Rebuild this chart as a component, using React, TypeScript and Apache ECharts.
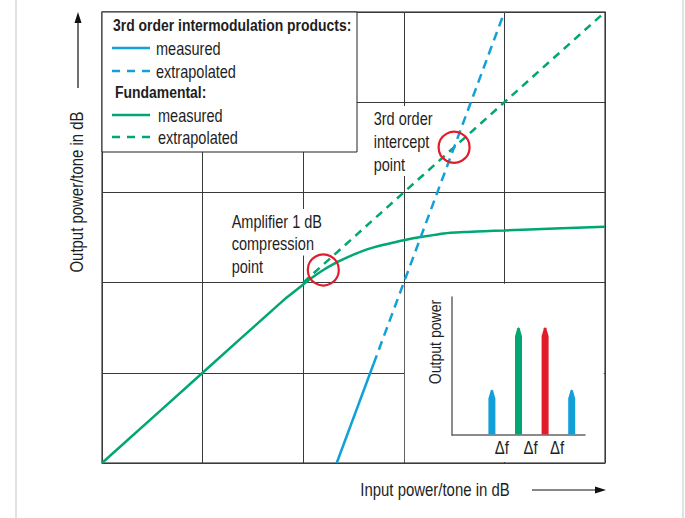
import React, { useEffect, useRef } from "react";
import * as echarts from "echarts";

const FONT = "'Liberation Sans', Arial, sans-serif";
const BLUE = "#12a0d9";
const GREEN = "#00a673";
const RED = "#e11d2b";
const GRID_LINE = "#3a3a3a";

// main chart data (dB, arbitrary units)
const fundMeasuredX = [0, 10, 18, 19, 20, 21, 22, 23, 24, 25, 26, 27, 28, 29, 30, 32, 34, 36, 38, 40, 45, 50];
const fundMeasuredY = [0, 10, 18, 18.9, 19.8, 20.65, 21.4, 22.05, 22.6, 23.1, 23.55, 23.9, 24.2, 24.45, 24.7, 25.1, 25.45, 25.6, 25.7, 25.78, 26.0, 26.2];
const fundExtrapX = [20, 50];
const fundExtrapY = [20, 50];
const imMeasuredX = [23.33, 27];
const imMeasuredY = [0, 11];
const imExtrapX = [27, 40];
const imExtrapY = [11, 50];
const compressionPoint = [22, 21.4];
const interceptPoint = [35, 35];
const insetMaskCell = [30, 20, 50, 0];

// inset spectrum
const spikeX = [3, 5, 7, 9];
const spikeH = [33, 78, 78, 33];
const spikeColors = [BLUE, GREEN, RED, BLUE];
const deltaLabelX = [3.75, 5.9, 7.9];
const deltaLabels = ["Δf", "Δf", "Δf"];

const zip = (a: number[], b: number[]) => a.map((v, i) => [v, b[i]]);

const REG = 0.83;
const BOLD = 0.82;

export default function App() {
  const ref = useRef<HTMLDivElement>(null);
  useEffect(() => {
    const chart = echarts.init(ref.current!, null, { renderer: "svg" });
    const ts = (size: number, weight = "normal") => ({
      font: `${weight} ${size}px ${FONT}`,
      fill: "#1e1e1e",
    });
    const legendY = [25, 48, 71, 92, 115, 137];
    const legendText = (x: number, y: number, text: string, bold = false) => ({
      type: "text", z: 11, x, y, scaleX: bold ? BOLD : REG,
      style: { text, ...ts(bold ? 17 : 17.5, bold ? "bold" : "normal"), verticalAlign: "middle" },
    });
    const legendLine = (y: number, color: string, dashed: boolean) => ({
      type: "line", z: 11, shape: { x1: 112, y1: y, x2: 150, y2: y },
      style: { stroke: color, lineWidth: 2.5, lineDash: dashed ? [8, 7] : null },
    });
    const option: any = {
      animation: false,
      backgroundColor: "#fff",
      grid: [
        { left: 102, top: 12, width: 503, height: 451, show: true, borderColor: "#666", borderWidth: 1.5, backgroundColor: "transparent" },
        { left: 452, top: 297, width: 133, height: 138, show: false },
      ],
      xAxis: [
        {
          type: "value", gridIndex: 0, min: 0, max: 50, interval: 10,
          axisLine: { show: false }, axisTick: { show: false }, axisLabel: { show: false },
          splitLine: { show: true, lineStyle: { color: GRID_LINE, width: 1 } },
        },
        {
          type: "value", gridIndex: 1, min: 0, max: 10, z: 3,
          axisLine: { show: true, onZero: false, lineStyle: { color: "#666", width: 1.5 } },
          axisTick: { show: false }, axisLabel: { show: false }, splitLine: { show: false },
        },
      ],
      yAxis: [
        {
          type: "value", gridIndex: 0, min: 0, max: 50, interval: 10,
          axisLine: { show: false }, axisTick: { show: false }, axisLabel: { show: false },
          splitLine: { show: true, lineStyle: { color: GRID_LINE, width: 1 } },
        },
        {
          type: "value", gridIndex: 1, min: 0, max: 100, z: 3,
          axisLine: { show: true, onZero: false, lineStyle: { color: "#666", width: 1.5 } },
          axisTick: { show: false }, axisLabel: { show: false }, splitLine: { show: false },
        },
      ],
      series: [
        {
          type: "custom", xAxisIndex: 0, yAxisIndex: 0, z: 1, silent: true,
          data: [insetMaskCell],
          renderItem: (_p: any, api: any) => {
            const a = api.coord([api.value(0), api.value(1)]);
            const b = api.coord([api.value(2), api.value(3)]);
            return {
              type: "rect",
              shape: { x: a[0] + 1, y: a[1] + 1.2, width: b[0] - a[0] - 2.2, height: b[1] - a[1] - 2.2 },
              style: { fill: "#fff" },
            };
          },
        },
        {
          type: "line", xAxisIndex: 0, yAxisIndex: 0, data: zip(fundMeasuredX, fundMeasuredY),
          showSymbol: false, smooth: 0.3, lineStyle: { color: GREEN, width: 2.5 },
        },
        {
          type: "line", xAxisIndex: 0, yAxisIndex: 0, data: zip(fundExtrapX, fundExtrapY),
          showSymbol: false, lineStyle: { color: GREEN, width: 2.5, type: [8, 6] },
        },
        {
          type: "line", xAxisIndex: 0, yAxisIndex: 0, data: zip(imMeasuredX, imMeasuredY),
          showSymbol: false, lineStyle: { color: BLUE, width: 2.5 },
        },
        {
          type: "line", xAxisIndex: 0, yAxisIndex: 0, data: zip(imExtrapX, imExtrapY),
          showSymbol: false, lineStyle: { color: BLUE, width: 2.5, type: [9, 6] },
        },
        {
          type: "scatter", xAxisIndex: 0, yAxisIndex: 0, z: 4, symbol: "circle", symbolSize: 31,
          data: [compressionPoint, interceptPoint],
          itemStyle: { color: "rgba(255,255,255,0)", borderColor: RED, borderWidth: 2.2, opacity: 1 },
        },
        {
          type: "custom", xAxisIndex: 1, yAxisIndex: 1, z: 4,
          data: spikeX.map((x, i) => ({ value: [x, spikeH[i]], itemStyle: { color: spikeColors[i] } })),
          renderItem: (_p: any, api: any) => {
            const base = api.coord([api.value(0), 0]);
            const tip = api.coord([api.value(0), api.value(1)]);
            const w = 7;
            const cap = 9;
            return {
              type: "polygon",
              shape: {
                points: [
                  [base[0] - w / 2, base[1] - 0.5],
                  [base[0] - w / 2, tip[1] + cap],
                  [base[0] - 1.2, tip[1] + 1],
                  [base[0], tip[1]],
                  [base[0] + 1.2, tip[1] + 1],
                  [base[0] + w / 2, tip[1] + cap],
                  [base[0] + w / 2, base[1] - 0.5],
                ],
              },
              style: { fill: api.visual("color") },
            };
          },
        },
        {
          type: "custom", xAxisIndex: 1, yAxisIndex: 1, z: 4,
          data: deltaLabelX.map((x, i) => ({ value: [x, 0], name: deltaLabels[i] })),
          renderItem: (p: any, api: any) => {
            const c = api.coord([api.value(0), 0]);
            return {
              type: "text",
              x: c[0], y: c[1] + 13, scaleX: REG,
              style: { text: deltaLabels[p.dataIndex], ...ts(18), align: "center", verticalAlign: "middle" },
            };
          },
        },
      ],
      graphic: [
        // page frame
        { type: "line", z: 0, shape: { x1: 16, y1: 0, x2: 16, y2: 518 }, style: { stroke: "#d9d9d9", lineWidth: 1.5 } },
        { type: "line", z: 0, shape: { x1: 683, y1: 0, x2: 683, y2: 518 }, style: { stroke: "#d9d9d9", lineWidth: 1.5 } },
        // axis titles
        {
          type: "text", x: 77, y: 192, rotation: Math.PI / 2, scaleX: REG,
          style: { text: "Output power/tone in dB", ...ts(18), align: "center", verticalAlign: "middle" },
        },
        { type: "line", shape: { x1: 78, y1: 88, x2: 78, y2: 20 }, style: { stroke: "#111", lineWidth: 1.2 } },
        { type: "polygon", shape: { points: [[78, 12], [74.5, 23], [81.5, 23]] }, style: { fill: "#111" } },
        {
          type: "text", x: 435, y: 490, scaleX: REG,
          style: { text: "Input power/tone in dB", ...ts(18), align: "center", verticalAlign: "middle" },
        },
        { type: "line", shape: { x1: 532, y1: 490, x2: 596, y2: 490 }, style: { stroke: "#111", lineWidth: 1.2 } },
        { type: "polygon", shape: { points: [[606, 490], [595, 486.5], [595, 493.5]] }, style: { fill: "#111" } },
        // annotations (per-line white masks)
        ...["Amplifier 1 dB", "compression", "point"].map((t, i) => ({
          type: "text", z: 1, x: 230, y: 221 + i * 22.5, scaleX: REG,
          style: { text: t, ...ts(17.5), verticalAlign: "middle", backgroundColor: "#fff", padding: [3, 2, 3, 2] },
        })),
        ...["3rd order", "intercept", "point"].map((t, i) => ({
          type: "text", z: 1, x: 372, y: 118 + i * 23, scaleX: REG,
          style: { text: t, ...ts(17.5), verticalAlign: "middle", backgroundColor: "#fff", padding: [3, 2, 3, 2] },
        })),
        // inset axis title
        {
          type: "text", z: 5, x: 435, y: 342, rotation: Math.PI / 2, scaleX: REG,
          style: { text: "Output power", ...ts(17), align: "center", verticalAlign: "middle" },
        },
        // legend
        { type: "rect", z: 10, shape: { x: 102, y: 12, width: 255, height: 140 }, style: { fill: "#fff", stroke: "#222", lineWidth: 1 } },
        legendText(113, legendY[0], "3rd order intermodulation products:", true),
        legendLine(legendY[1], BLUE, false),
        legendText(156, legendY[1], "measured"),
        legendLine(legendY[2], BLUE, true),
        legendText(156, legendY[2], "extrapolated"),
        legendText(115, legendY[3], "Fundamental:", true),
        legendLine(legendY[4], GREEN, false),
        legendText(158, legendY[4], "measured"),
        legendLine(legendY[5], GREEN, true),
        legendText(158, legendY[5], "extrapolated"),
      ],
    };
    chart.setOption(option);
    return () => chart.dispose();
  }, []);
  return (
    <div
      ref={ref}
      style={{ position: "fixed", left: 0, top: 0, width: 685, height: 518, background: "#fff" }}
    />
  );
}
